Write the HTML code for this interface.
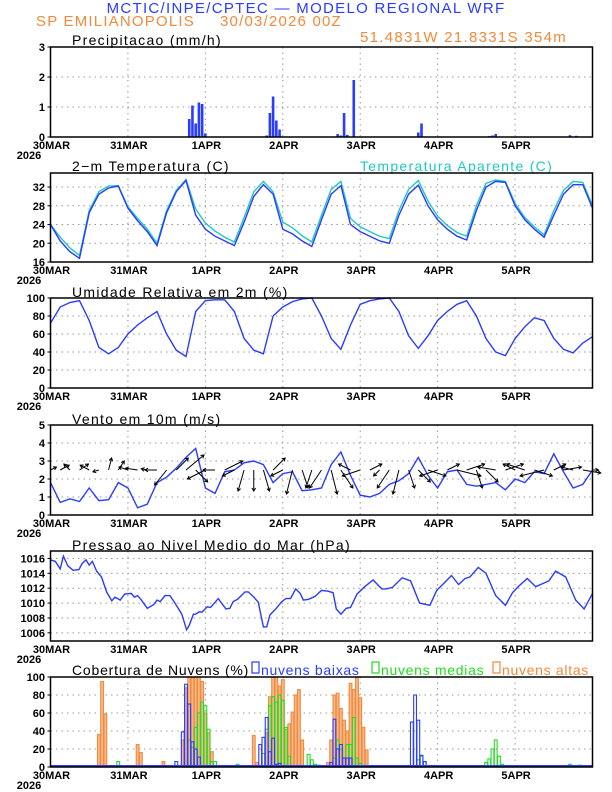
<!DOCTYPE html>
<html><head><meta charset="utf-8">
<style>
html,body{margin:0;padding:0;background:#fff;}
svg{display:block;font-family:"Liberation Sans",sans-serif;}
.tk{font-size:11px;font-weight:bold;}
.tt{font-size:14px;letter-spacing:1.3px;}
.lg{font-size:14px;letter-spacing:0.7px;}
</style></head>
<body>
<svg id="chart" width="612" height="792" viewBox="0 0 612 792">
<text x="306" y="13" text-anchor="middle" fill="#2a3cff" font-size="15" letter-spacing="1.3">MCTIC/INPE/CPTEC — MODELO REGIONAL WRF</text>
<text x="36" y="26" fill="#f08a3c" font-size="15" letter-spacing="1.2">SP EMILIANOPOLIS</text>
<text x="220" y="26" fill="#f08a3c" font-size="15" letter-spacing="1.2">30/03/2026 00Z</text>
<text x="360" y="42" fill="#f08a3c" font-size="15" letter-spacing="1.3">51.4831W 21.8331S 354m</text>
<text x="72" y="45" class="tt">Precipitacao (mm/h)</text>
<text x="72" y="171" class="tt">2−m Temperatura (C)</text>
<text x="360" y="171" class="tt" fill="#20c8c0">Temperatura Aparente (C)</text>
<text x="72" y="297" class="tt">Umidade Relativa em 2m (%)</text>
<text x="72" y="424" class="tt">Vento em 10m (m/s)</text>
<text x="72" y="550" class="tt">Pressao ao Nivel Medio do Mar (hPa)</text>
<text x="72" y="675" font-size="14" letter-spacing="0.8">Cobertura de Nuvens (%)</text>
<g>
<rect x="252" y="662" width="7" height="11" fill="none" stroke="#2a3cff" stroke-width="1.2"/>
<text x="261" y="675" class="lg" fill="#2a3cff">nuvens baixas</text>
<rect x="372" y="662" width="7" height="11" fill="none" stroke="#20dd20" stroke-width="1.2"/>
<text x="381" y="675" class="lg" fill="#20dd20">nuvens medias</text>
<rect x="493" y="662" width="7" height="11" fill="none" stroke="#f08a3c" stroke-width="1.2"/>
<text x="502" y="675" class="lg" fill="#f08a3c">nuvens altas</text>
</g>
</svg>
<script>
// ---- data ----
const dayLabels = ["30MAR","31MAR","1APR","2APR","3APR","4APR","5APR"];
const precipHours = [43,44,45,46,47,48,67,68,69,70,71,88,89,90,91,92,94,114,115,136,137,138,161,163];
const precipValues = [0.6,1.05,0.45,1.15,1.1,0.12,0.05,0.8,1.35,0.55,0.25,0.02,0.1,0.05,0.8,0.07,1.9,0.15,0.45,0.03,0.05,0.1,0.06,0.04];
// 3-hourly series (h = 0,3,...,168)
const tempValues = [24,20.5,18.2,16.8,26.5,30.5,31.8,32.2,27.5,24.8,22.5,19.5,26.5,31,33.4,26,23,21.5,20.5,19.5,24.5,30,32.5,30.5,23,22,20.5,19.3,25,30.5,32.3,24,22.5,21.5,20.5,20,26,30.5,32.4,28,25,23,21.5,20.7,27,32,33.2,33,28,25,23,21.3,26,30.5,32.5,32.5,27.5];
const apparentValues = [24,21.3,19,17.4,27,31,32.2,32.3,27.8,25.3,23,20,27,31.3,33.6,27.3,24.3,22.6,21.3,20.3,25.5,31,33.2,31,24.5,23.3,21.6,20.3,26,31.5,33.2,25.3,23.5,22.5,21.5,21,27,31.5,33.4,29,25.8,23.8,22.3,21.5,28,32.8,33.5,33.2,28.5,25.5,23.5,21.8,27,31.3,33.2,33,28];
const humidityValues = [72,90,95,97,75,45,38,45,60,70,78,85,60,42,35,85,97,98,98,85,55,42,38,80,90,96,99,100,80,55,43,70,93,97,99,100,85,58,44,58,75,85,93,97,80,55,40,36,55,68,78,75,55,43,39,50,57];
const windValues = [1.8,0.7,0.9,0.75,1.5,0.8,0.85,1.8,1.5,0.4,0.6,1.8,2.1,2.6,3.2,3.7,1.5,1.2,2.4,2.5,2.9,3.0,2.8,1.8,2.3,2.4,1.35,1.4,1.5,2.8,3.5,2.2,1.1,1.0,1.2,1.7,1.9,2.3,3.2,2.2,1.5,2.4,2.5,1.7,1.6,1.7,1.8,1.4,2.0,1.8,2.4,2.3,3.4,2.4,1.5,1.7,2.5];
const windU = [1,1.5,-1,1.5,-1.5,-1,0.5,1,-1.5,-2,-1,-2,-2,2,3,2,-3,-2,3,-2,-1,0,1,2,-2,-1,1,-1,-2,1,2,-2,-3,2,-1,-2,-1,1,2,3,-3,2,4,3,1,2,-3,3,-2,-3,3,-4,2,3,-2,3,1];
const windV = [0.5,0.8,1,1,0.8,-0.3,2,1.5,0.5,0.3,0.2,0,-2.5,2,2.5,-2,-1.5,0,1.5,-1,-3.5,-3.5,-3.5,2,-1,-4,-3,-3,-3,-4,-3,1,-1,1,-1,-3,-4,-3,-2,-1,-1,1,-1,1,-3,-2,0.5,1,1,1,-1,-1,1,0.5,0.5,-0.5,0];
const pressHours = [0,1.5,3,4,5.4,7,8.8,9.8,11,12,13,14.3,15.8,17.4,19,20,21.6,23,25,26,27,28,30,32,33,34,35.5,37,38.6,40.7,42.2,43,44.3,45,46,47,48.6,49.6,52,53,54.4,55.6,56.6,58,60.3,61.3,63,64.4,66,67,68,70,71.7,73,74.4,76,77.4,78.4,80,82,84,86,87.6,88.6,90,91.7,93,95,97.4,100,102.7,104,106,109,111.6,114.4,117.6,119.7,121.8,124.3,126.5,128.5,130,132.6,135,138,141,143.2,145.2,147.8,150.4,153,154.5,156.6,159.7,162.8,165.4,168];
const pressValues = [1015.8,1015.6,1014.6,1016.3,1015,1014.4,1014.5,1015.3,1015.8,1015.1,1015.6,1014.3,1013.5,1011.5,1010.3,1010.8,1010.4,1011.2,1011.3,1010.8,1011,1010.5,1009.3,1009.8,1010.4,1010.2,1011,1011,1010,1008.5,1006.4,1007,1008.5,1008.5,1008.8,1008.8,1009.5,1009.4,1010.6,1010,1009.2,1009.3,1010.2,1010.5,1011.5,1011.5,1010.8,1010.1,1006.8,1006.8,1008.4,1009.3,1010.2,1010.6,1010.6,1011.9,1011.3,1010.4,1010.5,1010.9,1011.7,1011.6,1011.4,1009.2,1008.5,1009.3,1009.4,1011.2,1012.2,1013.1,1011.9,1011.9,1012.1,1013.4,1013,1010,1009.7,1011.7,1012.6,1013.7,1012.5,1013.3,1013.5,1014.8,1014,1011,1009.7,1011.4,1012.3,1013.3,1012.2,1012.7,1013,1014.3,1013.5,1010.4,1009.2,1011.3];
const highHours = [15,16,17,27,28,35,41,42,43,44,45,46,47,48,49,50,63,64,67,68,69,70,71,72,73,74,75,76,77,78,86,87,88,89,90,91,92,93,94,95,96,97,98];
const highValues = [36,95,59,25,16,6,30,88,100,100,100,100,95,60,38,17,35,5,38,78,100,100,90,97,42,48,61,80,86,30,5,30,80,82,65,52,40,93,86,100,77,44,19];
const midHours = [18,21,43,44,45,46,47,48,49,50,51,58,66,67,68,69,70,71,72,73,74,80,81,82,83,88,89,90,92,93,94,95,96,114,115,116,135,136,137,138,139,140,161,162,163,164,165];
const midValues = [1,6,30,22,44,60,72,68,42,6,6,3,15,42,68,78,72,80,74,44,12,14,8,3,2,10,30,20,25,25,55,10,4,8,12,6,5,9,20,30,12,3,3,1,1,2,1];
const lowHours = [39,41,42,43,44,45,46,65,66,67,68,69,70,71,87,88,89,90,91,92,93,112,113,114,115,116];
const lowValues = [6,39,92,70,28,20,11,25,33,55,17,32,3,4,5,53,20,25,10,10,10,50,80,52,13,6];

// ---- helpers ----
const svg = document.getElementById('chart');
const NS = 'http://www.w3.org/2000/svg';
const X0 = 50.5, X1 = 592.5, HMAX = 168;
function xs(h){ return X0 + h*(X1-X0)/HMAX; }
function mk(tag, attrs, parent){
  const e = document.createElementNS(NS, tag);
  for (const k in attrs) e.setAttribute(k, attrs[k]);
  (parent||svg).appendChild(e); return e;
}
function ys(p, v){ return p.bot - (v - p.min)/(p.max - p.min)*(p.bot - p.top); }

const panels = {
  precip:{top:47,bot:137,min:0,max:3,ticks:[0,1,2,3]},
  temp:{top:173,bot:262,min:16,max:35,ticks:[16,20,24,28,32]},
  hum:{top:298,bot:388,min:0,max:100,ticks:[0,20,40,60,80,100]},
  wind:{top:425,bot:515,min:0,max:5,ticks:[0,1,2,3,4,5]},
  press:{top:551,bot:641,min:1004.9,max:1017,ticks:[1006,1008,1010,1012,1014,1016]},
  cloud:{top:677,bot:767,min:0,max:100,ticks:[0,20,40,60,80,100]}
};

for (const key in panels){
  const p = panels[key];
  const g = mk('g', {});
  
  
  p.g = g;
  for (let d=1; d<7; d++){
    const l = mk('line', {x1:xs(d*24), x2:xs(d*24), y1:p.top, y2:p.bot, stroke:'#999', 'stroke-width':1, 'stroke-dasharray':'1.5,4'}, g);
    
    
  }
  p.ticks.forEach(t => {
    const y = ys(p, t);
    if (t !== p.min && y > p.top+2){
      const l = mk('line', {x1:X0, x2:X1, y1:y, y2:y, stroke:'#999', 'stroke-width':1, 'stroke-dasharray':'1.5,4'}, g);
      
      
    }
    const tx = mk('text', {x:45, y:y+4, 'text-anchor':'end', class:'tk'}, g);
    tx.textContent = t;
    
    
    mk('line', {x1:X0-3, x2:X0, y1:y, y2:y, stroke:'#000'}, g);
  });
  dayLabels.forEach((lab, d) => {
    const tx = mk('text', {x:xs(d*24)+1, y:p.bot+12, 'text-anchor':'middle', class:'tk'}, g);
    tx.textContent = lab;
    
    
  });
  const yr = mk('text', {x:29, y:p.bot+22, 'text-anchor':'middle', class:'tk'}, g);
  yr.textContent = '2026';
  
  
}

function frame(p, key){
  const r = mk('rect', {x:X0, y:p.top, width:X1-X0, height:p.bot-p.top, fill:'none', stroke:'#000', 'stroke-width':1.5}, p.g);
  
  
}
function line(p, hours, vals, color, name){
  const d = vals.map((v,i) => (i?'L':'M') + xs(hours[i]).toFixed(1) + ',' + ys(p,v).toFixed(1)).join('');
  const e = mk('path', {d:d, fill:'none', stroke:color, 'stroke-width':1.4}, p.g);
  
  
}
const h3 = tempValues.map((_,i) => i*3);

precipHours.forEach((h,i) => {
  const p = panels.precip, y = ys(p, precipValues[i]);
  const b = mk('rect', {x:xs(h)-1.3, y:y, width:2.6, height:p.bot-y, fill:'#2a3cff'}, p.g);
  
  
});
line(panels.temp, h3, apparentValues, '#20c8c0', 'apparent-temp-line');
line(panels.temp, h3, tempValues, '#2a3cff', 'temp-line');
line(panels.hum, h3, humidityValues, '#2a3cff', 'humidity-line');
line(panels.wind, h3, windValues, '#2a3cff', 'wind-speed-line');
windU.forEach((u,i) => {
  const p = panels.wind, x = xs(i*3), y = ys(p, 2.5);
  const ex = x + u*6, ey = y - windV[i]*6;
  const a = mk('line', {x1:x, y1:y, x2:ex, y2:ey, stroke:'#000', 'stroke-width':1}, p.g);
  
  
  const ang = Math.atan2(ey-y, ex-x);
  const hd = [ang+2.6, ang-2.6].map(t => (ex+3.5*Math.cos(t)).toFixed(1)+','+(ey+3.5*Math.sin(t)).toFixed(1));
  const hp = mk('polyline', {points: hd[0]+' '+ex.toFixed(1)+','+ey.toFixed(1)+' '+hd[1], fill:'none', stroke:'#000', 'stroke-width':1}, p.g);
  
  
});
line(panels.press, pressHours, pressValues, '#2a3cff', 'pressure-line');
function cbars(hours, vals, stroke, fill, name){
  const p = panels.cloud;
  hours.forEach((h,i) => {
    const y = ys(p, vals[i]);
    const b = mk('rect', {x:xs(h)-1.4, y:y, width:2.8, height:p.bot-y, fill:fill, stroke:stroke, 'stroke-width':1.1}, p.g);
    
    
  });
}
cbars(highHours, highValues, '#f08a3c', '#f7b98a', 'high-cloud-bar');
cbars(midHours, midValues, '#20dd20', 'none', 'mid-cloud-bar');
cbars(lowHours, lowValues, '#2a3cff', 'none', 'low-cloud-bar');
const bl = mk('line', {x1:X0, x2:X1, y1:766, y2:766, stroke:'#2a3cff', 'stroke-width':2}, panels.cloud.g);



for (const key in panels) frame(panels[key], key);
</script>
</body></html>
